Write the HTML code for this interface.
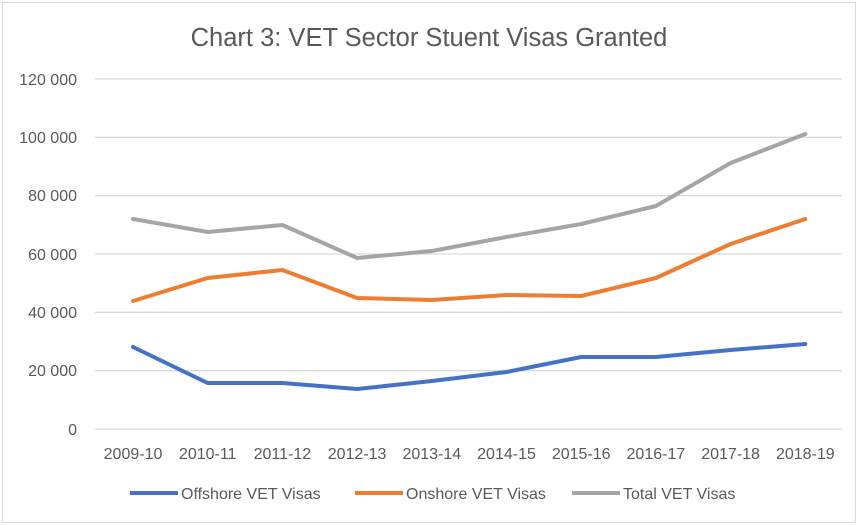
<!DOCTYPE html>
<html><head><meta charset="utf-8"><style>
body{margin:0;background:#fff}
svg{display:block;font-family:"Liberation Sans",Calibri,sans-serif}
</style></head><body>
<svg width="858" height="525" viewBox="0 0 858 525">
<rect x="2.5" y="2.5" width="853" height="520" fill="#fff" stroke="#d9d9d9" stroke-width="1"/>
<text x="429" y="46" font-size="25.5" fill="#595959" text-anchor="middle">Chart 3: VET Sector Stuent Visas Granted</text>
<g stroke="#d9d9d9" stroke-width="1.3">
<line x1="95" x2="842" y1="79" y2="79"/><line x1="95" x2="842" y1="137.3" y2="137.3"/>
<line x1="95" x2="842" y1="195.7" y2="195.7"/><line x1="95" x2="842" y1="254" y2="254"/>
<line x1="95" x2="842" y1="312.3" y2="312.3"/><line x1="95" x2="842" y1="370.7" y2="370.7"/>
<line x1="95" x2="842" y1="429" y2="429"/>
</g>
<g font-size="16" fill="#595959" text-anchor="end">
<text x="77" y="85">120 000</text><text x="77" y="143">100 000</text><text x="77" y="201">80 000</text>
<text x="77" y="260">60 000</text><text x="77" y="318">40 000</text><text x="77" y="376">20 000</text><text x="77" y="435">0</text>
</g>
<g font-size="16" fill="#595959" text-anchor="middle">
<text x="133" y="459">2009-10</text><text x="207.7" y="459">2010-11</text><text x="282.4" y="459">2011-12</text>
<text x="357.1" y="459">2012-13</text><text x="431.8" y="459">2013-14</text><text x="506.5" y="459">2014-15</text>
<text x="581.2" y="459">2015-16</text><text x="655.9" y="459">2016-17</text><text x="730.6" y="459">2017-18</text><text x="805.3" y="459">2018-19</text>
</g>
<g fill="none" stroke-width="4" stroke-linejoin="round" stroke-linecap="round">
<polyline stroke="#a5a5a5" points="133,219 207.7,232 282.4,225 357.1,258 431.8,251 506.5,237 581.2,224 655.9,206 730.6,163 805.3,134"/>
<polyline stroke="#ed7d31" points="133,301 207.7,278 282.4,270 357.1,298 431.8,300 506.5,295 581.2,296 655.9,278 730.6,244 805.3,219"/>
<polyline stroke="#4472c4" points="133,347 207.7,383 282.4,383 357.1,389 431.8,381 506.5,372 581.2,357 655.9,357 730.6,350 805.3,344"/>
</g>
<g font-size="16" fill="#595959">
<line x1="130" x2="178" y1="493" y2="493" stroke="#4472c4" stroke-width="4"/><text x="181" y="499">Offshore VET Visas</text>
<line x1="355" x2="403" y1="493" y2="493" stroke="#ed7d31" stroke-width="4"/><text x="406" y="499">Onshore VET Visas</text>
<line x1="572" x2="620" y1="493" y2="493" stroke="#a5a5a5" stroke-width="4"/><text x="623" y="499">Total VET Visas</text>
</g>
</svg>
</body></html>
